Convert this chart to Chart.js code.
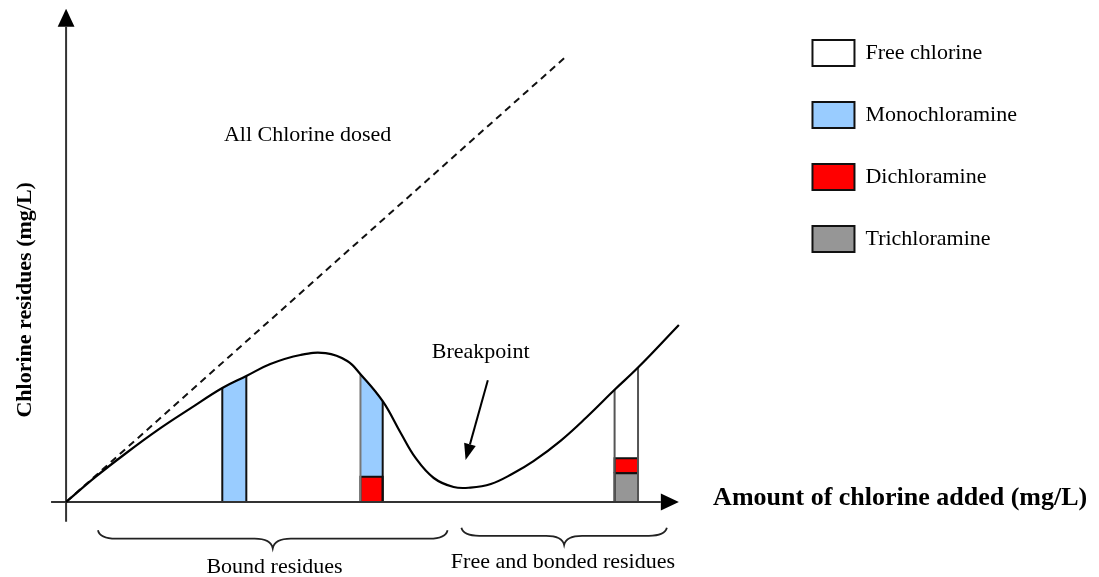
<!DOCTYPE html>
<html lang="en">
<head>
<meta charset="UTF-8">
<title>Breakpoint chlorination</title>
<script src="https://cdn.jsdelivr.net/npm/chart.js"></script>
<style>
  html, body { margin: 0; padding: 0; background: #fff; }
  #wrap { width: 1099px; height: 577px; }
</style>
</head>
<body>
<div id="wrap"><canvas id="breakpointChart"></canvas></div>
<script>
// chlorine added (x) against chlorine residual (y), schematic units
const residualDose  = [0, 0.48, 0.98, 1.57, 2.07, 2.6, 3.0, 3.4, 3.9, 4.32, 4.68, 4.9, 5.27, 5.57, 5.82, 6.12, 6.45, 6.73, 7.07, 7.43, 7.78, 8.23, 8.65, 9.13, 9.52, 10.2];
const residualLevel = [0, 0.41, 0.8, 1.23, 1.56, 1.9, 2.1, 2.3, 2.45, 2.48, 2.35, 2.13, 1.68, 1.15, 0.73, 0.4, 0.25, 0.24, 0.3, 0.47, 0.68, 1.02, 1.4, 1.87, 2.24, 2.95];
const dosedDose  = [0, 8.35];
const dosedLevel = [0, 7.45];

const species = ['Free chlorine', 'Monochloramine', 'Dichloramine', 'Trichloramine'];
const speciesColors = ['#ffffff', '#99ccff', '#ff0000', '#969696'];

// three sample columns, species stacked from the bottom up to the curve
const sampleFrom = [2.6, 4.9, 9.13];
const sampleTo   = [3.0, 5.27, 9.52];
const trichloramine = [0, 0, 0.48];
const dichloramine  = [0, 0.42, 0.25];
const residualAtFrom = [1.9, 2.13, 1.87];
const residualAtTo   = [2.1, 1.68, 2.24];
const restSpecies = [1, 1, 0];

// layout
const W = 1099, H = 577;
const PX = 60;                  // pixels per unit on both axes
const origin = {x: 66, y: 502}; // where 0,0 sits on the canvas
const padTop = 4, padRight = 72;
const legendFont = {family: '"Liberation Serif", "Times New Roman", serif', size: 22};
const boxW = 42, boxH = 26, legendPad = 36;

// work out where the right legend will start, so the plot area can be mapped
const mctx = document.createElement('canvas').getContext('2d');
mctx.font = legendFont.size + 'px ' + legendFont.family;
const widest = Math.max(...species.map(s => mctx.measureText(s).width));
const legendWidth = legendPad + boxW + legendFont.size + widest;
const chartRight = W - padRight - legendWidth;

const xMin = -origin.x / PX, xMax = (chartRight - origin.x) / PX;
const yMax = (origin.y - padTop) / PX, yMin = -(H - origin.y) / PX;

function pts(xs, ys) { return xs.map((v, i) => ({x: v, y: ys[i]})); }

function arrowHead(from, to, len, half) {
  const dx = to[0] - from[0], dy = to[1] - from[1];
  const d = Math.hypot(dx, dy), ux = dx / d, uy = dy / d;
  const bx = to[0] - ux * len, by = to[1] - uy * len;
  return {
    base: [bx, by],
    poly: [{x: to[0], y: to[1]}, {x: bx - uy * half, y: by + ux * half},
           {x: bx + uy * half, y: by - ux * half}, {x: to[0], y: to[1]}]
  };
}

const datasets = [];

datasets.push({
  label: 'residual', data: pts(residualDose, residualLevel),
  borderColor: '#000', borderWidth: 2.2, tension: 0.4,
  pointRadius: 0, order: 0
});
datasets.push({
  label: 'dosed', data: pts(dosedDose, dosedLevel),
  borderColor: '#111', borderWidth: 2, borderDash: [7, 5], pointRadius: 0, order: 0
});

// axes with arrowheads
const axisLines = [
  {from: [-0.25, 0], to: [10.2, 0]},
  {from: [0, -0.33], to: [0, 8.22]}
];
axisLines.forEach(a => {
  const head = arrowHead(a.from, a.to, 0.3, 0.14);
  datasets.push({label: 'axis', data: [{x: a.from[0], y: a.from[1]}, {x: head.base[0], y: head.base[1]}],
    borderColor: '#333', borderWidth: 2, pointRadius: 0, order: 1});
  datasets.push({label: 'axis-head', data: head.poly, fill: 'shape', backgroundColor: '#000',
    borderWidth: 0, pointRadius: 0, order: 1});
});

// breakpoint pointer
const pointer = arrowHead([7.02, 2.03], [6.65, 0.7], 0.27, 0.1);
datasets.push({label: 'pointer', data: [{x: 7.02, y: 2.03}, {x: pointer.base[0], y: pointer.base[1]}],
  borderColor: '#000', borderWidth: 2, pointRadius: 0, order: 0});
datasets.push({label: 'pointer-head', data: pointer.poly, fill: 'shape', backgroundColor: '#000',
  borderWidth: 0, pointRadius: 0, order: 0});

// sample columns
const edgeColors = [['#111', '#111'], ['#777', '#111'], ['#555', '#555']];
sampleFrom.forEach((a, i) => {
  const b = sampleTo[i];
  let floor = 0;
  [[trichloramine[i], 3], [dichloramine[i], 2]].forEach(([h, s]) => {
    if (!h) return;
    const top = floor + h;
    datasets.push({label: species[s], data: [{x: a, y: floor}, {x: a, y: top}, {x: b, y: top}, {x: b, y: floor}, {x: a, y: floor}],
      fill: 'shape', backgroundColor: speciesColors[s], borderColor: '#111', borderWidth: 2,
      pointRadius: 0, order: 2});
    floor = top;
  });
  datasets.push({label: species[restSpecies[i]],
    data: [{x: a, y: floor}, {x: a, y: residualAtFrom[i]}, {x: b, y: residualAtTo[i]}, {x: b, y: floor}, {x: a, y: floor}],
    fill: 'shape', backgroundColor: speciesColors[restSpecies[i]], borderWidth: 0, pointRadius: 0, order: 3});
  datasets.push({label: 'edge', data: [{x: a, y: 0}, {x: a, y: residualAtFrom[i]}],
    borderColor: edgeColors[i][0], borderWidth: 2, pointRadius: 0, order: 1});
  datasets.push({label: 'edge', data: [{x: b, y: 0}, {x: b, y: residualAtTo[i]}],
    borderColor: edgeColors[i][1], borderWidth: 2, pointRadius: 0, order: 1});
});

// text and braces, anchored in data units
const serif = '"Liberation Serif", "Times New Roman", serif';
const notes = [
  {text: 'All Chlorine dosed', x: 4.02, y: 6.02, font: '22px ' + serif, align: 'center'},
  {text: 'Breakpoint', x: 6.9, y: 2.4, font: '22px ' + serif, align: 'center'},
  {text: 'Bound residues', x: 3.47, y: -1.18, font: '22px ' + serif, align: 'center'},
  {text: 'Free and bonded residues', x: 8.27, y: -1.1, font: '22px ' + serif, align: 'center'},
  {text: 'Amount of chlorine added (mg/L)', x: 10.77, y: -0.05, font: 'bold 26px ' + serif, align: 'left'},
  {text: 'Chlorine residues (mg/L)', x: -0.58, y: 3.37, font: 'bold 22px ' + serif, align: 'center', rotate: true}
];
const braces = [
  {from: 0.53, to: 6.35, y: -0.47, depth: 18},
  {from: 6.58, to: 10.0, y: -0.43, depth: 17}
];

const annotations = {
  id: 'annotations',
  afterDatasetsDraw(chart) {
    const {ctx, scales: {x, y}} = chart;
    ctx.save();
    ctx.fillStyle = '#000';
    ctx.textBaseline = 'alphabetic';
    notes.forEach(n => {
      ctx.font = n.font;
      ctx.textAlign = n.align;
      const px = x.getPixelForValue(n.x), py = y.getPixelForValue(n.y);
      if (n.rotate) {
        ctx.save();
        ctx.translate(px, py);
        ctx.rotate(-Math.PI / 2);
        ctx.fillText(n.text, 0, 0);
        ctx.restore();
      } else {
        ctx.fillText(n.text, px, py);
      }
    });
    ctx.strokeStyle = '#222';
    ctx.lineWidth = 1.8;
    braces.forEach(b => {
      const a = x.getPixelForValue(b.from), e = x.getPixelForValue(b.to);
      const top = y.getPixelForValue(b.y);
      const m = (a + e) / 2, mid = top + b.depth * 0.47, tip = top + b.depth, q = 18;
      ctx.beginPath();
      ctx.moveTo(a, top);
      ctx.quadraticCurveTo(a + 2, mid, a + q, mid);
      ctx.lineTo(m - q, mid);
      ctx.quadraticCurveTo(m - 2, mid, m, tip);
      ctx.quadraticCurveTo(m + 2, mid, m + q, mid);
      ctx.lineTo(e - q, mid);
      ctx.quadraticCurveTo(e - 2, mid, e, top);
      ctx.stroke();
    });
    ctx.restore();
  }
};

new Chart(document.getElementById('breakpointChart'), {
  type: 'line',
  data: {datasets: datasets},
  options: {
    responsive: true,
    maintainAspectRatio: false,
    animation: false,
    events: [],
    layout: {padding: {left: 0, right: padRight, top: padTop, bottom: 0}},
    scales: {
      x: {type: 'linear', min: xMin, max: xMax, display: false},
      y: {type: 'linear', min: yMin, max: yMax, display: false}
    },
    plugins: {
      tooltip: {enabled: false},
      legend: {
        position: 'right',
        align: 'start',
        labels: {
          boxWidth: boxW, boxHeight: boxH, padding: legendPad, color: '#000',
          font: legendFont,
          generateLabels: () => species.map((s, i) => ({
            text: s, fillStyle: speciesColors[i], strokeStyle: '#111', lineWidth: 2, hidden: false, index: i
          }))
        }
      }
    }
  },
  plugins: [annotations]
});
</script>
</body>
</html>
